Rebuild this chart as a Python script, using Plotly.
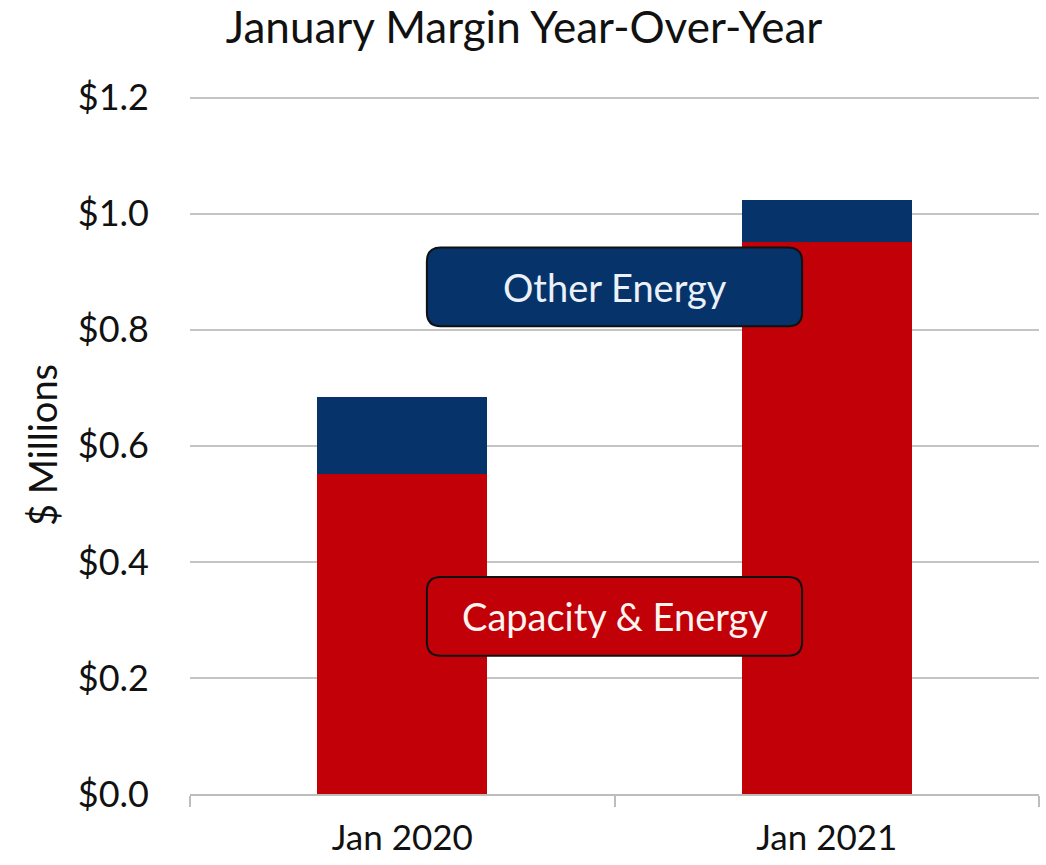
import plotly.graph_objects as go

# Monthly margin by component, $ millions
categories = ["Jan 2020", "Jan 2021"]
capacity_energy = [0.551, 0.951]
other_energy = [0.133, 0.073]

y_ticks = [0.0, 0.2, 0.4, 0.6, 0.8, 1.0, 1.2]
y_tick_labels = ["$0.0", "$0.2", "$0.4", "$0.6", "$0.8", "$1.0", "$1.2"]

RED = "#C10008"
NAVY = "#06336A"
FONT = "Lato"

W, H = 1046, 865
M_L, M_R, M_T, M_B = 190, 7, 96, 71
PW, PH = W - M_L - M_R, H - M_T - M_B
Y_TOP = 1.203  # a little headroom so the $1.2 gridline is drawn

fig = go.Figure()
fig.add_trace(go.Bar(x=categories, y=capacity_energy, name="Capacity & Energy",
                     marker=dict(color=RED, line=dict(width=0)), width=0.40))
fig.add_trace(go.Bar(x=categories, y=other_energy, name="Other Energy",
                     marker=dict(color=NAVY, line=dict(width=0)), width=0.40))


def rounded_box(x0, y0, x1, y1, r_px=14):
    """Rounded rectangle path in paper coordinates."""
    rx, ry = r_px / PW, r_px / PH
    return (f"M {x0+rx},{y0} L {x1-rx},{y0} Q {x1},{y0} {x1},{y0+ry} "
            f"L {x1},{y1-ry} Q {x1},{y1} {x1-rx},{y1} "
            f"L {x0+rx},{y1} Q {x0},{y1} {x0},{y1-ry} "
            f"L {x0},{y0+ry} Q {x0},{y0} {x0+rx},{y0} Z")


# Series label boxes (paper coordinates)
boxes = [
    ("Other Energy", NAVY, "#EAF1F8", 0.279, 0.670, 0.721, 0.783),
    ("Capacity & Energy", RED, "#FFF4F0", 0.279, 0.198, 0.721, 0.311),
]
for text, fill, fcol, x0, y0, x1, y1 in boxes:
    fig.add_shape(type="path", path=rounded_box(x0, y0, x1, y1),
                  xref="paper", yref="paper", fillcolor=fill,
                  line=dict(color="#111111", width=2), layer="above")
    fig.add_annotation(text=text, xref="paper", yref="paper",
                       x=(x0 + x1) / 2, y=(y0 + y1) / 2,
                       xanchor="center", yanchor="middle", showarrow=False,
                       font=dict(family=FONT, size=38, color=fcol))

fig.update_layout(
    barmode="stack",
    width=W, height=H,
    margin=dict(l=M_L, r=M_R, t=M_T, b=M_B),
    paper_bgcolor="white", plot_bgcolor="white",
    showlegend=False,
    bargap=0.6,
    title=dict(text="January Margin Year-Over-Year", x=0.501, xanchor="center",
               y=1 - 28 / H, yanchor="middle",
               font=dict(family=FONT, size=44, color="#111111")),
    font=dict(family=FONT, color="#111111"),
)
fig.update_xaxes(
    automargin=False,
    showline=True, linecolor="#BDBDBD", linewidth=2,
    ticks="outside", tickson="boundaries", ticklen=11, tickcolor="#BDBDBD",
    tickwidth=2, showgrid=False,
    tickfont=dict(family=FONT, size=35, color="#111111"),
    ticklabelstandoff=12,
)
fig.update_yaxes(
    automargin=False,
    range=[0, Y_TOP], tickvals=y_ticks, ticktext=y_tick_labels,
    showgrid=True, gridcolor="#C4C4C4", gridwidth=2, zeroline=False,
    tickfont=dict(family=FONT, size=36, color="#111111"),
    ticklabelstandoff=40,
    title=dict(text="$ Millions", font=dict(family=FONT, size=38, color="#111111"),
               standoff=8),
)

fig.write_html("out.html")
